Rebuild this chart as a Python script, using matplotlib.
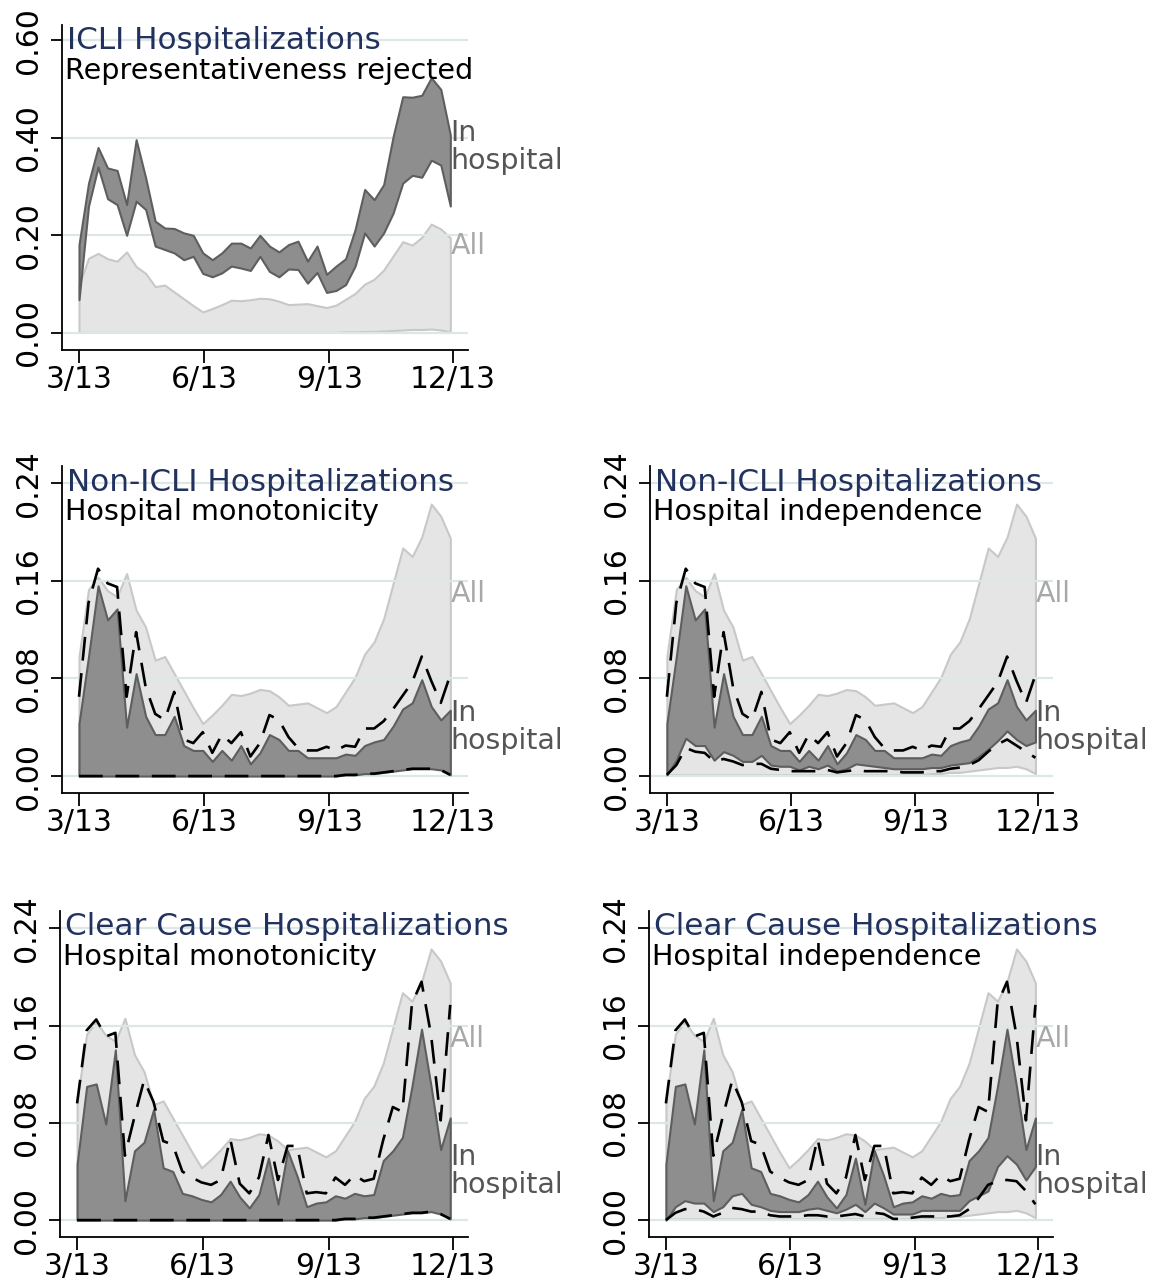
import matplotlib
matplotlib.use("Agg")
import matplotlib.pyplot as plt
import pandas as pd

# -----------------------------------
# DATA (weekly shares, starting 3/13)
# -----------------------------------

WEEKS = pd.date_range("2020-03-13", periods=40, freq="7D")

TICK_DATES = pd.to_datetime(["2020-03-13", "2020-06-13", "2020-09-13", "2020-12-13"])
TICK_LABELS = ["3/13", "6/13", "9/13", "12/13"]

# "All" band, shared by every panel
all_hi = [0.098, 0.153, 0.163, 0.152, 0.147, 0.166, 0.136, 0.122, 0.095, 0.098,
          0.084, 0.070, 0.056, 0.043, 0.050, 0.058, 0.067, 0.066, 0.068, 0.071,
          0.070, 0.065, 0.058, 0.059, 0.060, 0.056, 0.052, 0.057, 0.069, 0.081,
          0.100, 0.110, 0.129, 0.158, 0.187, 0.180, 0.196, 0.223, 0.213, 0.195]
all_lo = [0.001, 0.001, 0.001, 0.001, 0.001, 0.001, 0.001, 0.001, 0.001, 0.001,
          0.001, 0.001, 0.001, 0.001, 0.001, 0.001, 0.001, 0.001, 0.001, 0.001,
          0.001, 0.001, 0.001, 0.001, 0.001, 0.001, 0.001, 0.001, 0.002, 0.002,
          0.003, 0.003, 0.004, 0.005, 0.006, 0.007, 0.007, 0.008, 0.006, 0.002]

# ICLI, representativeness rejected
icli_hi = [0.181, 0.307, 0.380, 0.338, 0.333, 0.263, 0.396, 0.318, 0.229, 0.215,
           0.214, 0.205, 0.200, 0.164, 0.150, 0.164, 0.184, 0.184, 0.174, 0.200,
           0.178, 0.166, 0.181, 0.188, 0.147, 0.178, 0.120, 0.137, 0.152, 0.212,
           0.294, 0.273, 0.304, 0.403, 0.484, 0.483, 0.487, 0.523, 0.499, 0.406]
icli_lo = [0.068, 0.260, 0.340, 0.275, 0.263, 0.200, 0.270, 0.253, 0.178, 0.171,
           0.164, 0.150, 0.157, 0.122, 0.115, 0.123, 0.137, 0.133, 0.128, 0.157,
           0.126, 0.115, 0.131, 0.130, 0.102, 0.124, 0.083, 0.087, 0.099, 0.137,
           0.205, 0.178, 0.205, 0.246, 0.307, 0.323, 0.319, 0.354, 0.344, 0.260]

# Non-ICLI
nonicli_hi = [0.043, 0.098, 0.156, 0.128, 0.137, 0.040, 0.084, 0.049, 0.034, 0.034,
              0.049, 0.025, 0.021, 0.021, 0.012, 0.021, 0.013, 0.025, 0.010, 0.019,
              0.034, 0.030, 0.021, 0.021, 0.015, 0.015, 0.015, 0.015, 0.018, 0.017,
              0.025, 0.028, 0.030, 0.041, 0.055, 0.060, 0.079, 0.057, 0.046, 0.054]
nonicli_ci_hi = [0.065, 0.142, 0.170, 0.158, 0.155, 0.065, 0.118, 0.073, 0.051, 0.046,
                 0.069, 0.030, 0.027, 0.036, 0.019, 0.034, 0.027, 0.036, 0.016, 0.027,
                 0.050, 0.046, 0.032, 0.023, 0.021, 0.021, 0.024, 0.021, 0.025, 0.024,
                 0.039, 0.039, 0.045, 0.055, 0.066, 0.077, 0.098, 0.078, 0.060, 0.083]
nonicli_lo_mono = [0.000, 0.000, 0.000, 0.000, 0.000, 0.000, 0.000, 0.000, 0.000, 0.000,
                   0.000, 0.000, 0.000, 0.000, 0.000, 0.000, 0.000, 0.000, 0.000, 0.000,
                   0.000, 0.000, 0.000, 0.000, 0.000, 0.000, 0.000, 0.000, 0.001, 0.001,
                   0.002, 0.002, 0.003, 0.004, 0.005, 0.006, 0.006, 0.006, 0.005, 0.001]
nonicli_lo_ind = [0.001, 0.013, 0.031, 0.025, 0.025, 0.013, 0.020, 0.017, 0.012, 0.012,
                  0.017, 0.009, 0.008, 0.008, 0.005, 0.008, 0.006, 0.009, 0.004, 0.006,
                  0.010, 0.009, 0.008, 0.007, 0.006, 0.006, 0.006, 0.006, 0.007, 0.007,
                  0.009, 0.010, 0.011, 0.016, 0.022, 0.029, 0.037, 0.030, 0.025, 0.028]
nonicli_ci_lo_ind = [0.001, 0.009, 0.023, 0.020, 0.019, 0.012, 0.014, 0.012, 0.009, 0.010,
                     0.010, 0.006, 0.005, 0.004, 0.004, 0.004, 0.004, 0.005, 0.003, 0.004,
                     0.005, 0.004, 0.004, 0.004, 0.004, 0.003, 0.003, 0.003, 0.004, 0.004,
                     0.006, 0.007, 0.009, 0.013, 0.020, 0.026, 0.030, 0.025, 0.020, 0.015]

# Clear cause
clear_hi = [0.046, 0.110, 0.112, 0.079, 0.140, 0.016, 0.057, 0.064, 0.091, 0.043,
            0.040, 0.022, 0.020, 0.017, 0.015, 0.021, 0.032, 0.019, 0.010, 0.021,
            0.051, 0.013, 0.057, 0.036, 0.011, 0.014, 0.015, 0.020, 0.018, 0.022,
            0.020, 0.021, 0.049, 0.057, 0.068, 0.110, 0.157, 0.110, 0.058, 0.084]
clear_ci_hi = [0.096, 0.156, 0.165, 0.151, 0.154, 0.053, 0.085, 0.115, 0.097, 0.065,
               0.062, 0.040, 0.035, 0.031, 0.029, 0.033, 0.067, 0.030, 0.022, 0.035,
               0.070, 0.033, 0.061, 0.061, 0.022, 0.023, 0.022, 0.035, 0.029, 0.037,
               0.032, 0.034, 0.066, 0.093, 0.089, 0.178, 0.196, 0.152, 0.082, 0.177]
clear_lo_mono = [0.000, 0.000, 0.000, 0.000, 0.000, 0.000, 0.000, 0.000, 0.000, 0.000,
                 0.000, 0.000, 0.000, 0.000, 0.000, 0.000, 0.000, 0.000, 0.000, 0.000,
                 0.000, 0.000, 0.000, 0.000, 0.000, 0.000, 0.000, 0.000, 0.001, 0.001,
                 0.002, 0.002, 0.003, 0.004, 0.005, 0.006, 0.006, 0.007, 0.005, 0.001]
clear_lo_ind = [0.000, 0.011, 0.016, 0.014, 0.014, 0.007, 0.011, 0.020, 0.022, 0.013,
                0.011, 0.008, 0.007, 0.007, 0.007, 0.009, 0.010, 0.008, 0.006, 0.009,
                0.013, 0.007, 0.014, 0.010, 0.005, 0.005, 0.005, 0.008, 0.008, 0.008,
                0.008, 0.008, 0.016, 0.020, 0.024, 0.044, 0.053, 0.046, 0.033, 0.044]
clear_ci_lo_ind = [0.000, 0.006, 0.009, 0.009, 0.007, 0.003, 0.006, 0.010, 0.009, 0.007,
                   0.007, 0.004, 0.003, 0.003, 0.003, 0.004, 0.004, 0.003, 0.003, 0.004,
                   0.005, 0.003, 0.006, 0.005, 0.001, 0.001, 0.002, 0.003, 0.003, 0.003,
                   0.003, 0.004, 0.009, 0.018, 0.029, 0.032, 0.033, 0.032, 0.024, 0.013]

# -----------------------------------
# STYLE
# -----------------------------------

plt.rcParams["font.family"] = ["DejaVu Sans"]

LIGHT_FILL = "#e5e5e5"
LIGHT_EDGE = "#c8c8c8"
DARK_FILL = "#8e8e8e"
DARK_EDGE = "#5e5e5e"
GRID = "#dde7e7"
TITLE_COLOR = "#22325e"
DASH = (0, (9, 4.8))

# axes boxes in pixels: left, top, right, bottom
W, H = 1154, 1282
BOXES = {
    "r1c1": (62, 25, 468, 350),
    "r2c1": (62, 466, 468, 793),
    "r2c2": (650, 466, 1053, 793),
    "r3c1": (60, 911, 468, 1237),
    "r3c2": (649, 911, 1053, 1237),
}

XLIM = (pd.Timestamp("2020-03-13") - pd.Timedelta(days=12.5),
        pd.Timestamp("2020-12-13") + pd.Timedelta(days=11))
LABEL_X = WEEKS[-1]


def draw_panel(box, title, subtitle, hosp_hi, hosp_lo, ci_hi, ci_lo,
               ylim, yticks, all_y, hosp_y):
    l, t, r, b = box
    ax = fig.add_axes([l / W, 1 - b / H, (r - l) / W, (b - t) / H])

    ax.fill_between(WEEKS, all_lo, all_hi, facecolor=LIGHT_FILL,
                    edgecolor=LIGHT_EDGE, linewidth=1.5, zorder=1)
    ax.fill_between(WEEKS, hosp_lo, hosp_hi, facecolor=DARK_FILL,
                    edgecolor=DARK_EDGE, linewidth=1.5, zorder=3)
    if ci_hi is not None:
        ax.plot(WEEKS, ci_hi, color="black", lw=1.9, linestyle=DASH, zorder=4)
        ax.plot(WEEKS, ci_lo, color="black", lw=1.9, linestyle=DASH, zorder=4)

    for yv in yticks:
        ax.axhline(yv, color=GRID, lw=1.6, zorder=2)

    ax.set_xlim(XLIM)
    ax.set_ylim(ylim)
    ax.set_xticks(TICK_DATES)
    ax.set_xticklabels(TICK_LABELS)
    ax.set_yticks(yticks)
    ax.set_yticklabels(["%.2f" % v for v in yticks], rotation=90, va="center")

    ax.tick_params(axis="x", length=9, width=1.3, pad=2, labelsize=21.5)
    ax.tick_params(axis="y", length=8, width=1.3, pad=6, labelsize=21.5)

    for side in ["top", "right"]:
        ax.spines[side].set_visible(False)
    for side in ["left", "bottom"]:
        ax.spines[side].set_linewidth(1.3)

    ax.text(0.012, 0.925, title, transform=ax.transAxes, fontsize=22.4,
            color=TITLE_COLOR, ha="left", va="baseline", zorder=6)
    ax.text(0.008, 0.835, subtitle, transform=ax.transAxes, fontsize=20.6,
            color="black", ha="left", va="baseline", zorder=6)

    ax.text(LABEL_X, hosp_y, "In\nhospital", fontsize=20.5, color="#555555",
            ha="left", va="center", linespacing=1.0, clip_on=False, zorder=6)
    ax.text(LABEL_X, all_y, "All", fontsize=20.5, color="#a8a8a8",
            ha="left", va="center", clip_on=False, zorder=6)
    return ax


# -----------------------------------
# FIGURE
# -----------------------------------

fig = plt.figure(figsize=(W / 100, H / 100), dpi=100)

TICKS_BIG = [0.0, 0.2, 0.4, 0.6]
TICKS_SMALL = [0.0, 0.08, 0.16, 0.24]
YLIM_BIG = (-0.035, 0.631)
YLIM_SMALL = (-0.0139, 0.2542)

draw_panel(BOXES["r1c1"], "ICLI Hospitalizations", "Representativeness rejected",
           icli_hi, icli_lo, None, None, YLIM_BIG, TICKS_BIG, 0.178, 0.38)

draw_panel(BOXES["r2c1"], "Non-ICLI Hospitalizations", "Hospital monotonicity",
           nonicli_hi, nonicli_lo_mono, nonicli_ci_hi, nonicli_lo_mono,
           YLIM_SMALL, TICKS_SMALL, 0.149, 0.040)

draw_panel(BOXES["r2c2"], "Non-ICLI Hospitalizations", "Hospital independence",
           nonicli_hi, nonicli_lo_ind, nonicli_ci_hi, nonicli_ci_lo_ind,
           YLIM_SMALL, TICKS_SMALL, 0.149, 0.040)

draw_panel(BOXES["r3c1"], "Clear Cause Hospitalizations", "Hospital monotonicity",
           clear_hi, clear_lo_mono, clear_ci_hi, clear_lo_mono,
           YLIM_SMALL, TICKS_SMALL, 0.149, 0.040)

draw_panel(BOXES["r3c2"], "Clear Cause Hospitalizations", "Hospital independence",
           clear_hi, clear_lo_ind, clear_ci_hi, clear_ci_lo_ind,
           YLIM_SMALL, TICKS_SMALL, 0.149, 0.040)

fig.savefig("out.png", dpi=100)
